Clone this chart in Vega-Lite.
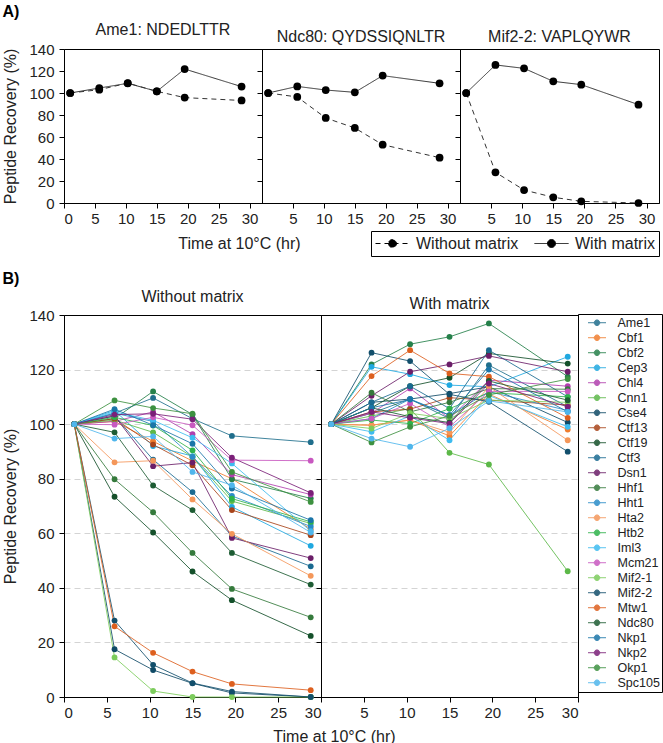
{
"$schema": "https://vega.github.io/schema/vega-lite/v6.json",
"padding": {"left": 2, "top": 3, "right": 0, "bottom": 0},
"config": {
  "font": "Liberation Sans",
  "view": {"stroke": "black", "strokeWidth": 1},
  "axis": {"domainColor": "black", "tickColor": "black", "labelColor": "#222", "titleColor": "#222", "labelFontSize": 15, "titleFontSize": 16, "titleFontWeight": "normal", "tickSize": 5, "labelPadding": 4, "grid": false, "titlePadding": 10},
  "title": {"fontSize": 16, "fontWeight": "normal", "color": "#222"}
},
"datasets": {
"a": [
{"p":"Ame1","c":"Without matrix","t":1.0,"v":100},{"p":"Ame1","c":"Without matrix","t":5.7,"v":103},{"p":"Ame1","c":"Without matrix","t":10.3,"v":109},{"p":"Ame1","c":"Without matrix","t":15,"v":101.5},{"p":"Ame1","c":"Without matrix","t":19.5,"v":95.8},{"p":"Ame1","c":"Without matrix","t":28.7,"v":93.2},
{"p":"Ame1","c":"With matrix","t":1.0,"v":100},{"p":"Ame1","c":"With matrix","t":5.7,"v":104.5},{"p":"Ame1","c":"With matrix","t":10.3,"v":108.8},{"p":"Ame1","c":"With matrix","t":15,"v":101.5},{"p":"Ame1","c":"With matrix","t":19.5,"v":121.8},{"p":"Ame1","c":"With matrix","t":28.7,"v":105.8},
{"p":"Ndc80","c":"Without matrix","t":1.0,"v":100},{"p":"Ndc80","c":"Without matrix","t":5.7,"v":96.4},{"p":"Ndc80","c":"Without matrix","t":10.3,"v":77.3},{"p":"Ndc80","c":"Without matrix","t":15,"v":68.2},{"p":"Ndc80","c":"Without matrix","t":19.5,"v":53},{"p":"Ndc80","c":"Without matrix","t":28.7,"v":41.2},
{"p":"Ndc80","c":"With matrix","t":1.0,"v":100},{"p":"Ndc80","c":"With matrix","t":5.7,"v":106},{"p":"Ndc80","c":"With matrix","t":10.3,"v":102.7},{"p":"Ndc80","c":"With matrix","t":15,"v":100.6},{"p":"Ndc80","c":"With matrix","t":19.5,"v":115.8},{"p":"Ndc80","c":"With matrix","t":28.7,"v":108.8},
{"p":"Mif2-2","c":"Without matrix","t":1.0,"v":100},{"p":"Mif2-2","c":"Without matrix","t":5.7,"v":27.9},{"p":"Mif2-2","c":"Without matrix","t":10.3,"v":11.8},{"p":"Mif2-2","c":"Without matrix","t":15,"v":5.2},{"p":"Mif2-2","c":"Without matrix","t":19.5,"v":1.5},{"p":"Mif2-2","c":"Without matrix","t":28.7,"v":0},
{"p":"Mif2-2","c":"With matrix","t":1.0,"v":100},{"p":"Mif2-2","c":"With matrix","t":5.7,"v":125.5},{"p":"Mif2-2","c":"With matrix","t":10.3,"v":122.4},{"p":"Mif2-2","c":"With matrix","t":15,"v":110.6},{"p":"Mif2-2","c":"With matrix","t":19.5,"v":107.6},{"p":"Mif2-2","c":"With matrix","t":28.7,"v":89.4}
],
"b": [
{"g":"Ame1","c":"N","t":1.2,"v":100},{"g":"Ame1","c":"N","t":5.9,"v":104},{"g":"Ame1","c":"N","t":10.4,"v":109.6},{"g":"Ame1","c":"N","t":15,"v":102},{"g":"Ame1","c":"N","t":19.6,"v":95.7},{"g":"Ame1","c":"N","t":28.8,"v":93.4},
{"g":"Cbf1","c":"N","t":1.2,"v":100},{"g":"Cbf1","c":"N","t":5.9,"v":101},{"g":"Cbf1","c":"N","t":10.4,"v":93.7},{"g":"Cbf1","c":"N","t":15,"v":86.5},{"g":"Cbf1","c":"N","t":19.6,"v":80},{"g":"Cbf1","c":"N","t":28.8,"v":61.5},
{"g":"Cbf2","c":"N","t":1.2,"v":100},{"g":"Cbf2","c":"N","t":5.9,"v":102},{"g":"Cbf2","c":"N","t":10.4,"v":112},{"g":"Cbf2","c":"N","t":15,"v":103.5},{"g":"Cbf2","c":"N","t":19.6,"v":79.8},{"g":"Cbf2","c":"N","t":28.8,"v":72.8},
{"g":"Cep3","c":"N","t":1.2,"v":100},{"g":"Cep3","c":"N","t":5.9,"v":105},{"g":"Cep3","c":"N","t":10.4,"v":92},{"g":"Cep3","c":"N","t":15,"v":88.3},{"g":"Cep3","c":"N","t":19.6,"v":69.7},{"g":"Cep3","c":"N","t":28.8,"v":55.4},
{"g":"Chl4","c":"N","t":1.2,"v":100},{"g":"Chl4","c":"N","t":5.9,"v":101},{"g":"Chl4","c":"N","t":10.4,"v":104.5},{"g":"Chl4","c":"N","t":15,"v":96.3},{"g":"Chl4","c":"N","t":19.6,"v":81.5},{"g":"Chl4","c":"N","t":28.8,"v":74.2},
{"g":"Cnn1","c":"N","t":1.2,"v":100},{"g":"Cnn1","c":"N","t":5.9,"v":101.5},{"g":"Cnn1","c":"N","t":10.4,"v":97},{"g":"Cnn1","c":"N","t":15,"v":88},{"g":"Cnn1","c":"N","t":19.6,"v":71.8},{"g":"Cnn1","c":"N","t":28.8,"v":63.6},
{"g":"Cse4","c":"N","t":1.2,"v":100},{"g":"Cse4","c":"N","t":5.9,"v":17.5},{"g":"Cse4","c":"N","t":10.4,"v":9.9},{"g":"Cse4","c":"N","t":15,"v":5},{"g":"Cse4","c":"N","t":19.6,"v":1.5},{"g":"Cse4","c":"N","t":28.8,"v":0},
{"g":"Ctf13","c":"N","t":1.2,"v":100},{"g":"Ctf13","c":"N","t":5.9,"v":102},{"g":"Ctf13","c":"N","t":10.4,"v":92.5},{"g":"Ctf13","c":"N","t":15,"v":84.9},{"g":"Ctf13","c":"N","t":19.6,"v":68.5},{"g":"Ctf13","c":"N","t":28.8,"v":59.3},
{"g":"Ctf19","c":"N","t":1.2,"v":100},{"g":"Ctf19","c":"N","t":5.9,"v":73.4},{"g":"Ctf19","c":"N","t":10.4,"v":60.3},{"g":"Ctf19","c":"N","t":15,"v":46},{"g":"Ctf19","c":"N","t":19.6,"v":35.5},{"g":"Ctf19","c":"N","t":28.8,"v":22.4},
{"g":"Ctf3","c":"N","t":1.2,"v":100},{"g":"Ctf3","c":"N","t":5.9,"v":103},{"g":"Ctf3","c":"N","t":10.4,"v":87},{"g":"Ctf3","c":"N","t":15,"v":75.1},{"g":"Ctf3","c":"N","t":19.6,"v":59},{"g":"Ctf3","c":"N","t":28.8,"v":47.9},
{"g":"Dsn1","c":"N","t":1.2,"v":100},{"g":"Dsn1","c":"N","t":5.9,"v":103},{"g":"Dsn1","c":"N","t":10.4,"v":84.6},{"g":"Dsn1","c":"N","t":15,"v":85.9},{"g":"Dsn1","c":"N","t":19.6,"v":58.3},{"g":"Dsn1","c":"N","t":28.8,"v":50.9},
{"g":"Hhf1","c":"N","t":1.2,"v":100},{"g":"Hhf1","c":"N","t":5.9,"v":79.8},{"g":"Hhf1","c":"N","t":10.4,"v":67.7},{"g":"Hhf1","c":"N","t":15,"v":52.8},{"g":"Hhf1","c":"N","t":19.6,"v":39.6},{"g":"Hhf1","c":"N","t":28.8,"v":29.2},
{"g":"Hht1","c":"N","t":1.2,"v":100},{"g":"Hht1","c":"N","t":5.9,"v":104},{"g":"Hht1","c":"N","t":10.4,"v":101},{"g":"Hht1","c":"N","t":15,"v":88},{"g":"Hht1","c":"N","t":19.6,"v":73.7},{"g":"Hht1","c":"N","t":28.8,"v":62.5},
{"g":"Hta2","c":"N","t":1.2,"v":100},{"g":"Hta2","c":"N","t":5.9,"v":86},{"g":"Hta2","c":"N","t":10.4,"v":86.6},{"g":"Hta2","c":"N","t":15,"v":72.4},{"g":"Hta2","c":"N","t":19.6,"v":59.8},{"g":"Hta2","c":"N","t":28.8,"v":44.4},
{"g":"Htb2","c":"N","t":1.2,"v":100},{"g":"Htb2","c":"N","t":5.9,"v":102.5},{"g":"Htb2","c":"N","t":10.4,"v":99.5},{"g":"Htb2","c":"N","t":15,"v":90.4},{"g":"Htb2","c":"N","t":19.6,"v":72.7},{"g":"Htb2","c":"N","t":28.8,"v":64.2},
{"g":"Iml3","c":"N","t":1.2,"v":100},{"g":"Iml3","c":"N","t":5.9,"v":104.5},{"g":"Iml3","c":"N","t":10.4,"v":101.4},{"g":"Iml3","c":"N","t":15,"v":95},{"g":"Iml3","c":"N","t":19.6,"v":85.6},{"g":"Iml3","c":"N","t":28.8,"v":60.8},
{"g":"Mcm21","c":"N","t":1.2,"v":100},{"g":"Mcm21","c":"N","t":5.9,"v":99.8},{"g":"Mcm21","c":"N","t":10.4,"v":102.5},{"g":"Mcm21","c":"N","t":15,"v":99.6},{"g":"Mcm21","c":"N","t":19.6,"v":86.8},{"g":"Mcm21","c":"N","t":28.8,"v":86.6},
{"g":"Mif2-1","c":"N","t":1.2,"v":100},{"g":"Mif2-1","c":"N","t":5.9,"v":14.5},{"g":"Mif2-1","c":"N","t":10.4,"v":2.2},{"g":"Mif2-1","c":"N","t":15,"v":0},{"g":"Mif2-1","c":"N","t":19.6,"v":0},{"g":"Mif2-1","c":"N","t":28.8,"v":0},
{"g":"Mif2-2","c":"N","t":1.2,"v":100},{"g":"Mif2-2","c":"N","t":5.9,"v":28},{"g":"Mif2-2","c":"N","t":10.4,"v":11.8},{"g":"Mif2-2","c":"N","t":15,"v":5.1},{"g":"Mif2-2","c":"N","t":19.6,"v":2},{"g":"Mif2-2","c":"N","t":28.8,"v":0},
{"g":"Mtw1","c":"N","t":1.2,"v":100},{"g":"Mtw1","c":"N","t":5.9,"v":25.9},{"g":"Mtw1","c":"N","t":10.4,"v":16.2},{"g":"Mtw1","c":"N","t":15,"v":9.3},{"g":"Mtw1","c":"N","t":19.6,"v":4.8},{"g":"Mtw1","c":"N","t":28.8,"v":2.5},
{"g":"Ndc80","c":"N","t":1.2,"v":100},{"g":"Ndc80","c":"N","t":5.9,"v":97},{"g":"Ndc80","c":"N","t":10.4,"v":77.5},{"g":"Ndc80","c":"N","t":15,"v":68.5},{"g":"Ndc80","c":"N","t":19.6,"v":52.8},{"g":"Ndc80","c":"N","t":28.8,"v":41.2},
{"g":"Nkp1","c":"N","t":1.2,"v":100},{"g":"Nkp1","c":"N","t":5.9,"v":105.5},{"g":"Nkp1","c":"N","t":10.4,"v":99.6},{"g":"Nkp1","c":"N","t":15,"v":92.8},{"g":"Nkp1","c":"N","t":19.6,"v":76.4},{"g":"Nkp1","c":"N","t":28.8,"v":64.8},
{"g":"Nkp2","c":"N","t":1.2,"v":100},{"g":"Nkp2","c":"N","t":5.9,"v":103.5},{"g":"Nkp2","c":"N","t":10.4,"v":103.8},{"g":"Nkp2","c":"N","t":15,"v":101.8},{"g":"Nkp2","c":"N","t":19.6,"v":87.7},{"g":"Nkp2","c":"N","t":28.8,"v":74.8},
{"g":"Okp1","c":"N","t":1.2,"v":100},{"g":"Okp1","c":"N","t":5.9,"v":108.7},{"g":"Okp1","c":"N","t":10.4,"v":105.9},{"g":"Okp1","c":"N","t":15,"v":103.8},{"g":"Okp1","c":"N","t":19.6,"v":82.5},{"g":"Okp1","c":"N","t":28.8,"v":71.5},
{"g":"Spc105","c":"N","t":1.2,"v":100},{"g":"Spc105","c":"N","t":5.9,"v":94.7},{"g":"Spc105","c":"N","t":10.4,"v":95.5},{"g":"Spc105","c":"N","t":15,"v":82.5},{"g":"Spc105","c":"N","t":19.6,"v":77.6},{"g":"Spc105","c":"N","t":28.8,"v":60.3},
{"g":"Ame1","c":"W","t":1.2,"v":100},{"g":"Ame1","c":"W","t":5.9,"v":104},{"g":"Ame1","c":"W","t":10.4,"v":109.2},{"g":"Ame1","c":"W","t":15,"v":102},{"g":"Ame1","c":"W","t":19.6,"v":121.6},{"g":"Ame1","c":"W","t":28.8,"v":106.4},
{"g":"Cbf1","c":"W","t":1.2,"v":100},{"g":"Cbf1","c":"W","t":5.9,"v":99.6},{"g":"Cbf1","c":"W","t":10.4,"v":101.5},{"g":"Cbf1","c":"W","t":15,"v":95.7},{"g":"Cbf1","c":"W","t":19.6,"v":111},{"g":"Cbf1","c":"W","t":28.8,"v":98},
{"g":"Cbf2","c":"W","t":1.2,"v":100},{"g":"Cbf2","c":"W","t":5.9,"v":121.9},{"g":"Cbf2","c":"W","t":10.4,"v":129.3},{"g":"Cbf2","c":"W","t":15,"v":132},{"g":"Cbf2","c":"W","t":19.6,"v":136.9},{"g":"Cbf2","c":"W","t":28.8,"v":117.4},
{"g":"Cep3","c":"W","t":1.2,"v":100},{"g":"Cep3","c":"W","t":5.9,"v":121},{"g":"Cep3","c":"W","t":10.4,"v":118.3},{"g":"Cep3","c":"W","t":15,"v":114.3},{"g":"Cep3","c":"W","t":19.6,"v":113.7},{"g":"Cep3","c":"W","t":28.8,"v":124.7},
{"g":"Chl4","c":"W","t":1.2,"v":100},{"g":"Chl4","c":"W","t":5.9,"v":104},{"g":"Chl4","c":"W","t":10.4,"v":113.1},{"g":"Chl4","c":"W","t":15,"v":102},{"g":"Chl4","c":"W","t":19.6,"v":116.1},{"g":"Chl4","c":"W","t":28.8,"v":113.9},
{"g":"Cnn1","c":"W","t":1.2,"v":100},{"g":"Cnn1","c":"W","t":5.9,"v":103},{"g":"Cnn1","c":"W","t":10.4,"v":105.7},{"g":"Cnn1","c":"W","t":15,"v":89.5},{"g":"Cnn1","c":"W","t":19.6,"v":85.2},{"g":"Cnn1","c":"W","t":28.8,"v":46.1},
{"g":"Cse4","c":"W","t":1.2,"v":100},{"g":"Cse4","c":"W","t":5.9,"v":108},{"g":"Cse4","c":"W","t":10.4,"v":109.2},{"g":"Cse4","c":"W","t":15,"v":111.2},{"g":"Cse4","c":"W","t":19.6,"v":113.7},{"g":"Cse4","c":"W","t":28.8,"v":100.6},
{"g":"Ctf13","c":"W","t":1.2,"v":100},{"g":"Ctf13","c":"W","t":5.9,"v":104.5},{"g":"Ctf13","c":"W","t":10.4,"v":105.5},{"g":"Ctf13","c":"W","t":15,"v":109.7},{"g":"Ctf13","c":"W","t":19.6,"v":108.8},{"g":"Ctf13","c":"W","t":28.8,"v":107},
{"g":"Ctf19","c":"W","t":1.2,"v":100},{"g":"Ctf19","c":"W","t":5.9,"v":106},{"g":"Ctf19","c":"W","t":10.4,"v":113.9},{"g":"Ctf19","c":"W","t":15,"v":117},{"g":"Ctf19","c":"W","t":19.6,"v":125.9},{"g":"Ctf19","c":"W","t":28.8,"v":122.2},
{"g":"Ctf3","c":"W","t":1.2,"v":100},{"g":"Ctf3","c":"W","t":5.9,"v":108},{"g":"Ctf3","c":"W","t":10.4,"v":113.9},{"g":"Ctf3","c":"W","t":15,"v":105.7},{"g":"Ctf3","c":"W","t":19.6,"v":127.1},{"g":"Ctf3","c":"W","t":28.8,"v":110},
{"g":"Dsn1","c":"W","t":1.2,"v":100},{"g":"Dsn1","c":"W","t":5.9,"v":110.4},{"g":"Dsn1","c":"W","t":10.4,"v":119.2},{"g":"Dsn1","c":"W","t":15,"v":121.9},{"g":"Dsn1","c":"W","t":19.6,"v":125},{"g":"Dsn1","c":"W","t":28.8,"v":119.2},
{"g":"Hhf1","c":"W","t":1.2,"v":100},{"g":"Hhf1","c":"W","t":5.9,"v":111.5},{"g":"Hhf1","c":"W","t":10.4,"v":104.5},{"g":"Hhf1","c":"W","t":15,"v":108},{"g":"Hhf1","c":"W","t":19.6,"v":113},{"g":"Hhf1","c":"W","t":28.8,"v":112.8},
{"g":"Hht1","c":"W","t":1.2,"v":100},{"g":"Hht1","c":"W","t":5.9,"v":102},{"g":"Hht1","c":"W","t":10.4,"v":109.2},{"g":"Hht1","c":"W","t":15,"v":103.3},{"g":"Hht1","c":"W","t":19.6,"v":111.9},{"g":"Hht1","c":"W","t":28.8,"v":105},
{"g":"Hta2","c":"W","t":1.2,"v":100},{"g":"Hta2","c":"W","t":5.9,"v":99.6},{"g":"Hta2","c":"W","t":10.4,"v":101.5},{"g":"Hta2","c":"W","t":15,"v":97},{"g":"Hta2","c":"W","t":19.6,"v":113.7},{"g":"Hta2","c":"W","t":28.8,"v":94.1},
{"g":"Htb2","c":"W","t":1.2,"v":100},{"g":"Htb2","c":"W","t":5.9,"v":101.5},{"g":"Htb2","c":"W","t":10.4,"v":100.2},{"g":"Htb2","c":"W","t":15,"v":105.7},{"g":"Htb2","c":"W","t":19.6,"v":111.5},{"g":"Htb2","c":"W","t":28.8,"v":110},
{"g":"Iml3","c":"W","t":1.2,"v":100},{"g":"Iml3","c":"W","t":5.9,"v":97.2},{"g":"Iml3","c":"W","t":10.4,"v":103},{"g":"Iml3","c":"W","t":15,"v":94.1},{"g":"Iml3","c":"W","t":19.6,"v":110.5},{"g":"Iml3","c":"W","t":28.8,"v":99},
{"g":"Mcm21","c":"W","t":1.2,"v":100},{"g":"Mcm21","c":"W","t":5.9,"v":102},{"g":"Mcm21","c":"W","t":10.4,"v":107.6},{"g":"Mcm21","c":"W","t":15,"v":99},{"g":"Mcm21","c":"W","t":19.6,"v":112},{"g":"Mcm21","c":"W","t":28.8,"v":112},
{"g":"Mif2-1","c":"W","t":1.2,"v":100},{"g":"Mif2-1","c":"W","t":5.9,"v":98.4},{"g":"Mif2-1","c":"W","t":10.4,"v":104},{"g":"Mif2-1","c":"W","t":15,"v":102},{"g":"Mif2-1","c":"W","t":19.6,"v":108.8},{"g":"Mif2-1","c":"W","t":28.8,"v":108},
{"g":"Mif2-2","c":"W","t":1.2,"v":100},{"g":"Mif2-2","c":"W","t":5.9,"v":126.2},{"g":"Mif2-2","c":"W","t":10.4,"v":123.1},{"g":"Mif2-2","c":"W","t":15,"v":110.9},{"g":"Mif2-2","c":"W","t":19.6,"v":108.2},{"g":"Mif2-2","c":"W","t":28.8,"v":89.9},
{"g":"Mtw1","c":"W","t":1.2,"v":100},{"g":"Mtw1","c":"W","t":5.9,"v":117.6},{"g":"Mtw1","c":"W","t":10.4,"v":127.1},{"g":"Mtw1","c":"W","t":15,"v":118.6},{"g":"Mtw1","c":"W","t":19.6,"v":117.4},{"g":"Mtw1","c":"W","t":28.8,"v":102.3},
{"g":"Ndc80","c":"W","t":1.2,"v":100},{"g":"Ndc80","c":"W","t":5.9,"v":106},{"g":"Ndc80","c":"W","t":10.4,"v":102.7},{"g":"Ndc80","c":"W","t":15,"v":100.6},{"g":"Ndc80","c":"W","t":19.6,"v":115.8},{"g":"Ndc80","c":"W","t":28.8,"v":108.8},
{"g":"Nkp1","c":"W","t":1.2,"v":100},{"g":"Nkp1","c":"W","t":5.9,"v":106},{"g":"Nkp1","c":"W","t":10.4,"v":109},{"g":"Nkp1","c":"W","t":15,"v":103.3},{"g":"Nkp1","c":"W","t":19.6,"v":120},{"g":"Nkp1","c":"W","t":28.8,"v":104.5},
{"g":"Nkp2","c":"W","t":1.2,"v":100},{"g":"Nkp2","c":"W","t":5.9,"v":104.5},{"g":"Nkp2","c":"W","t":10.4,"v":102.3},{"g":"Nkp2","c":"W","t":15,"v":100.2},{"g":"Nkp2","c":"W","t":19.6,"v":114.9},{"g":"Nkp2","c":"W","t":28.8,"v":106.4},
{"g":"Okp1","c":"W","t":1.2,"v":100},{"g":"Okp1","c":"W","t":5.9,"v":93.3},{"g":"Okp1","c":"W","t":10.4,"v":99},{"g":"Okp1","c":"W","t":15,"v":103},{"g":"Okp1","c":"W","t":19.6,"v":110.7},{"g":"Okp1","c":"W","t":28.8,"v":116.5},
{"g":"Spc105","c":"W","t":1.2,"v":100},{"g":"Spc105","c":"W","t":5.9,"v":94.7},{"g":"Spc105","c":"W","t":10.4,"v":91.7},{"g":"Spc105","c":"W","t":15,"v":98.5},{"g":"Spc105","c":"W","t":19.6,"v":108.5},{"g":"Spc105","c":"W","t":28.8,"v":104.5}
]
},
"vconcat": [
{
 "title": {"text": "A)", "anchor": "start", "fontWeight": "bold", "fontSize": 16, "offset": 2, "color": "black"},
 "bounds": "flush",
 "spacing": 0,
 "hconcat": [
  {
   "width": 198, "height": 154,
   "title": {"text": "Ame1: NDEDLTTR", "offset": 4},
   "data": {"name": "a"},
   "transform": [{"filter": "datum.p == 'Ame1'"}],
   "encoding": {
     "x": {"field": "t", "type": "quantitative", "scale": {"domain": [0, 32], "nice": false}, "axis": {"values": [0,5,10,15,20,25,30], "title": "Time at 10°C (hr)", "titleX": 175, "titleY": 40, "titleBaseline": "middle", "labelPadding": 3}},
     "y": {"field": "v", "type": "quantitative", "scale": {"domain": [0, 140], "nice": false}, "axis": {"values": [0,20,40,60,80,100,120,140], "title": "Peptide Recovery (%)", "labelPadding": 5}}
   },
   "layer": [
     {"mark": {"type": "line", "color": "#333", "strokeWidth": 1}, "encoding": {"strokeDash": {"field": "c", "type": "nominal", "scale": {"domain": ["Without matrix", "With matrix"], "range": [[5,4],[1,0]]}, "legend": {"title": null, "orient": "none", "legendX": 307, "legendY": 182, "direction": "horizontal", "columns": 2, "symbolType": "M-1,0H1M-0.235,0A0.235,0.235 0 1,0 0.235,0A0.235,0.235 0 1,0 -0.235,0Z", "symbolSize": 1156, "symbolStrokeColor": "black", "symbolFillColor": "black", "symbolStrokeWidth": 1, "labelFontSize": 16, "labelColor": "#222", "labelOffset": 6, "columnPadding": 15, "clipHeight": 17, "padding": 4, "strokeColor": "black", "labelLimit": 300, "encode": {"symbols": {"update": {"fill": {"value": "black"}, "stroke": {"value": "black"}}}}}}}},
     {"mark": {"type": "circle", "color": "black", "opacity": 1, "size": 60}, "encoding": {"detail": {"field": "c"}}}
   ]
  },
  {
   "width": 198, "height": 154,
   "title": {"text": "Ndc80: QYDSSIQNLTR", "offset": 4},
   "data": {"name": "a"},
   "transform": [{"filter": "datum.p == 'Ndc80'"}],
   "encoding": {
     "x": {"field": "t", "type": "quantitative", "scale": {"domain": [0, 32], "nice": false}, "axis": {"values": [5,10,15,20,25,30], "title": null, "labelPadding": 3}},
     "y": {"field": "v", "type": "quantitative", "scale": {"domain": [0, 140], "nice": false}, "axis": {"values": [0,20,40,60,80,100,120,140], "title": null, "labels": false}}
   },
   "layer": [
     {"mark": {"type": "line", "color": "#333", "strokeWidth": 1}, "encoding": {"strokeDash": {"field": "c", "type": "nominal", "scale": {"domain": ["Without matrix", "With matrix"], "range": [[5,4],[1,0]]}, "legend": {"title": null, "orient": "none", "legendX": 307, "legendY": 182, "direction": "horizontal", "columns": 2, "symbolType": "M-1,0H1M-0.235,0A0.235,0.235 0 1,0 0.235,0A0.235,0.235 0 1,0 -0.235,0Z", "symbolSize": 1156, "symbolStrokeColor": "black", "symbolFillColor": "black", "symbolStrokeWidth": 1, "labelFontSize": 16, "labelColor": "#222", "labelOffset": 6, "columnPadding": 15, "clipHeight": 17, "padding": 4, "strokeColor": "black", "labelLimit": 300, "encode": {"symbols": {"update": {"fill": {"value": "black"}, "stroke": {"value": "black"}}}}}}}},
     {"mark": {"type": "circle", "color": "black", "opacity": 1, "size": 60}, "encoding": {"detail": {"field": "c"}}}
   ]
  },
  {
   "width": 199, "height": 154,
   "title": {"text": "Mif2-2: VAPLQYWR", "offset": 4},
   "data": {"name": "a"},
   "transform": [{"filter": "datum.p == 'Mif2-2'"}],
   "encoding": {
     "x": {"field": "t", "type": "quantitative", "scale": {"domain": [0, 32], "nice": false}, "axis": {"values": [5,10,15,20,25,30], "title": null, "labelPadding": 3}},
     "y": {"field": "v", "type": "quantitative", "scale": {"domain": [0, 140], "nice": false}, "axis": {"values": [0,20,40,60,80,100,120,140], "title": null, "labels": false}}
   },
   "layer": [
     {"mark": {"type": "line", "color": "#333", "strokeWidth": 1}, "encoding": {"strokeDash": {"field": "c", "type": "nominal", "scale": {"domain": ["Without matrix", "With matrix"], "range": [[5,4],[1,0]]}, "legend": {"title": null, "orient": "none", "legendX": 307, "legendY": 182, "direction": "horizontal", "columns": 2, "symbolType": "M-1,0H1M-0.235,0A0.235,0.235 0 1,0 0.235,0A0.235,0.235 0 1,0 -0.235,0Z", "symbolSize": 1156, "symbolStrokeColor": "black", "symbolFillColor": "black", "symbolStrokeWidth": 1, "labelFontSize": 16, "labelColor": "#222", "labelOffset": 6, "columnPadding": 15, "clipHeight": 17, "padding": 4, "strokeColor": "black", "labelLimit": 300, "encode": {"symbols": {"update": {"fill": {"value": "black"}, "stroke": {"value": "black"}}}}}}}},
     {"mark": {"type": "circle", "color": "black", "opacity": 1, "size": 60}, "encoding": {"detail": {"field": "c"}}}
   ]
  }
 ]
},
{
 "title": {"text": "B)", "anchor": "start", "fontWeight": "bold", "fontSize": 16, "offset": 2, "color": "black"},
 "bounds": "flush",
 "spacing": 0,
 "hconcat": [
  {
   "width": 257, "height": 382,
   "title": {"text": "Without matrix", "offset": 3},
   "data": {"name": "b"},
   "transform": [{"filter": "datum.c == 'N'"}],
   "encoding": {
     "x": {"field": "t", "type": "quantitative", "scale": {"domain": [0, 30], "nice": false}, "axis": {"values": [0,5,10,15,20,25,30], "title": "Time at 10°C (hr)", "titleX": 270, "titleY": 39, "titleBaseline": "middle", "labelPadding": 3}},
     "y": {"field": "v", "type": "quantitative", "scale": {"domain": [0, 140], "nice": false}, "axis": {"values": [0,20,40,60,80,100,120,140], "title": "Peptide Recovery (%)", "labelPadding": 5, "grid": true, "gridDash": [6,4], "gridColor": "#d4d4d4", "gridOpacity": {"condition": {"test": "datum.value == 0 || datum.value == 140", "value": 0}, "value": 1}}}
   },
   "layer": [
     {"mark": {"type": "line", "strokeWidth": 1, "opacity": 0.85}, "encoding": {"color": {"field": "g", "type": "nominal", "scale": {"domain": ["Ame1","Cbf1","Cbf2","Cep3","Chl4","Cnn1","Cse4","Ctf13","Ctf19","Ctf3","Dsn1","Hhf1","Hht1","Hta2","Htb2","Iml3","Mcm21","Mif2-1","Mif2-2","Mtw1","Ndc80","Nkp1","Nkp2","Okp1","Spc105"], "range": ["#1f6e8c","#f07d2e","#25804a","#1fa8e0","#b13fae","#5cb848","#0f4a66","#a8441a","#14502a","#196a91","#6b1e68","#357a3c","#2a8cc8","#f4975a","#2db34a","#3dbcf0","#c858c0","#7ccc5c","#124f6c","#dd5f1e","#1d5c33","#1a75a8","#7a1f78","#3d9140","#4fb6ec"]}, "legend": {"title": null, "orient": "none", "legendX": 514, "legendY": 265, "symbolType": "M-1,0H1M-0.31,0A0.31,0.31 0 1,0 0.31,0A0.31,0.31 0 1,0 -0.31,0Z", "symbolSize": 324, "symbolStrokeWidth": 1, "labelFontSize": 12.5, "labelColor": "#222", "clipHeight": 14.45, "rowPadding": 0, "padding": 1.5, "symbolOffset": 8, "labelOffset": 11, "strokeColor": "black", "labelLimit": 200, "encode": {"symbols": {"update": {"fill": {"scale": "color", "field": "value"}, "opacity": {"value": 1}}}}}}}},
     {"mark": {"type": "circle", "size": 34, "opacity": 1}, "encoding": {"color": {"field": "g", "type": "nominal"}}}
   ]
  },
  {
   "width": 257, "height": 382,
   "title": {"text": "With matrix", "offset": 3},
   "data": {"name": "b"},
   "transform": [{"filter": "datum.c == 'W'"}],
   "encoding": {
     "x": {"field": "t", "type": "quantitative", "scale": {"domain": [0, 30], "nice": false}, "axis": {"values": [5,10,15,20,25,30], "title": null, "labelPadding": 3}},
     "y": {"field": "v", "type": "quantitative", "scale": {"domain": [0, 140], "nice": false}, "axis": {"values": [0,20,40,60,80,100,120,140], "title": null, "labels": false, "grid": true, "gridDash": [6,4], "gridColor": "#d4d4d4", "gridOpacity": {"condition": {"test": "datum.value == 0 || datum.value == 140", "value": 0}, "value": 1}}}
   },
   "layer": [
     {"mark": {"type": "line", "strokeWidth": 1, "opacity": 0.85}, "encoding": {"color": {"field": "g", "type": "nominal"}}},
     {"mark": {"type": "circle", "size": 34, "opacity": 1}, "encoding": {"color": {"field": "g", "type": "nominal"}}}
   ]
  }
 ]
}
],
"spacing": 18
}
